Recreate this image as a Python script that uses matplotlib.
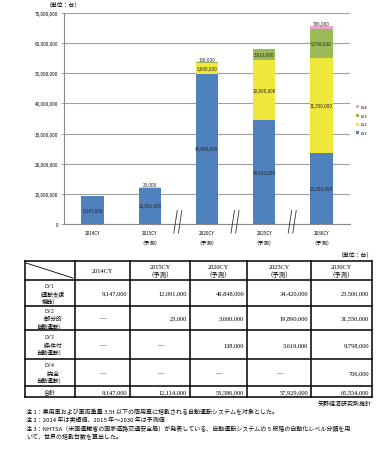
import numpy as np
import matplotlib
matplotlib.use('Agg')
import matplotlib.pyplot as plt

plt.rcParams['font.family'] = ['Noto Sans CJK JP', 'DejaVu Sans']

years = ['2014CY', '2015CY', '2020CY', '2025CY', '2030CY']
lv1 = [9147000, 12091000, 49848000, 34420000, 23500000]
lv2 = [0, 23000, 3600000, 19890000, 31550000]
lv3 = [0, 0, 138000, 3619000, 9798000]
lv4 = [0, 0, 0, 0, 706000]
totals = [9147000, 12114000, 53586000, 57929000, 65554000]
levels = ['LV1', 'LV2', 'LV3', 'LV4']
row_names = ['LV1\n（運転支援\n機能）', 'LV2\n（部分的\n自動運転）', 'LV3\n（条件付\n自動運転）',
             'LV4\n（完全\n自動運転）', '合計']
colors = ['#4f81bd', '#efe73c', '#9bbb59', '#e8a6c8']
notes = ['注 1：乗用車および車両重量 3.5t 以下の商用車に搭載される自動運転システムを対象とした。',
         '注 2：2014 年は実績値、2015 年～2030 年は予測値',
         '注 3：NHTSA（米国運輸省の国家道路交通安全局）が発表している、自動運転システムの 5 段階の自動化レベル分類を用',
         'いて、世界の搭載台数を算出した。']

W, H = 391, 452
fig = plt.figure(figsize=(W / 100, H / 100), dpi=100)

# chart area
ax = fig.add_axes([64 / W, 1 - 225 / H, 286 / W, 211 / H])
x = np.arange(len(years))
series = [lv1, lv2, lv3, lv4]
bottom = np.zeros(len(years))
for s, c, name in zip(series, colors, levels):
    s = np.array(s, dtype=float)
    ax.bar(x, s, 0.39, bottom=bottom, color=c, label=name, zorder=3)
    for i in range(len(years)):
        if s[i] <= 0:
            continue
        if s[i] < 1500000:
            yy = bottom[i] + s[i] + 900000
        else:
            yy = bottom[i] + s[i] / 2
        ax.text(x[i], yy, f'{int(s[i]):,}', ha='center', va='center',
                fontsize=3.3, color='#222222', zorder=4)
    bottom += s

ax.set_ylim(0, 70000000)
ax.set_xlim(-0.5, 4.5)
ax.set_yticks(np.arange(0, 70000001, 10000000))
ax.set_yticklabels([f'{v:,}' for v in range(0, 70000001, 10000000)], fontsize=3.3)
ax.set_xticks(x)
ax.set_xticklabels(years, fontsize=3.3)
ax.tick_params(axis='y', length=2, width=0.5, color='#888888', pad=2)
ax.tick_params(axis='x', length=0, pad=4)
ax.grid(axis='y', color='#a0a0a0', lw=0.8, zorder=0)
for sp in ['top', 'right']:
    ax.spines[sp].set_visible(False)
ax.spines['left'].set_color('#888888')
ax.spines['bottom'].set_color('#888888')
ax.spines['left'].set_linewidth(0.8)
ax.spines['bottom'].set_linewidth(0.8)

# break marks between categories
for bx in [1.5, 2.5, 3.5]:
    for dx in [-0.04, 0.04]:
        ax.plot([bx + dx - 0.04, bx + dx + 0.02], [-3000000, 4500000], color='#333333',
                lw=0.6, clip_on=False, zorder=5)

for i in range(1, 5):
    ax.text(x[i], -6300000, '（予測）', ha='center', va='center', fontsize=3.8)

handles, labels = ax.get_legend_handles_labels()
ax.legend(handles[::-1], labels[::-1], loc='upper left', bbox_to_anchor=(1.01, 0.58),
          fontsize=2.8, frameon=False, handlelength=0.8, handleheight=0.8,
          labelspacing=1.2, handletextpad=0.3)

# overlay in pixel coords for title, table and notes
fa = fig.add_axes([0, 0, 1, 1])
fa.set_xlim(0, W)
fa.set_ylim(H, 0)
fa.axis('off')

fa.text(46, 5, '（単位：台）', fontsize=4.2, va='center', ha='left')
fa.text(373, 255, '（単位：台）', fontsize=4.2, va='center', ha='right')

cols = [25, 75, 130, 190, 247, 311, 372]
rows = [262, 281, 307, 331, 360, 387, 398]
serif = ['Liberation Serif', 'Noto Sans CJK JP']
for cx in cols:
    fa.plot([cx, cx], [rows[0], rows[-1]], color='black', lw=1.1)
for ry in rows:
    fa.plot([cols[0], cols[-1]], [ry, ry], color='black', lw=1.1)
fa.plot([cols[0] + 1, cols[1] - 2], [rows[0] + 2, rows[1] - 2], color='black', lw=0.6)

for j, yname in enumerate(years):
    cx = (cols[j + 1] + cols[j + 2]) / 2
    lab = yname if j == 0 else yname + '\n（予測）'
    fa.text(cx, (rows[0] + rows[1]) / 2, lab, ha='center', va='center', fontsize=4.6,
            family=serif, linespacing=1.1)

table_vals = [lv1, lv2, lv3, lv4, totals]
for r in range(5):
    cy = (rows[r + 1] + rows[r + 2]) / 2
    if r < 4:
        # three short lines stacked inside the cell
        for k, part in enumerate(row_names[r].split('\n')):
            fa.text((cols[0] + cols[1]) / 2, cy + (k - 1) * 7.6, part, ha='center',
                    va='center', fontsize=4.1, family=serif)
    else:
        fa.text((cols[0] + cols[1]) / 2, cy, row_names[r], ha='center', va='center',
                fontsize=4.4, family=serif)
    for j in range(5):
        v = table_vals[r][j]
        if v > 0:
            fa.text(cols[j + 2] - 3, cy, f'{v:,}', ha='right', va='center', fontsize=4.6,
                    family=serif)
        else:
            fa.text((cols[j + 1] + cols[j + 2]) / 2, cy, '—', ha='center', va='center',
                    fontsize=4.6, family=serif)

fa.text(372, 404, '矢野経済研究所推計', ha='right', va='center', fontsize=4.3)
for k, line in enumerate(notes):
    fa.text(26, 412 + k * 8.3, line, ha='left', va='center', fontsize=4.3)

fig.savefig('out.png', dpi=100)
